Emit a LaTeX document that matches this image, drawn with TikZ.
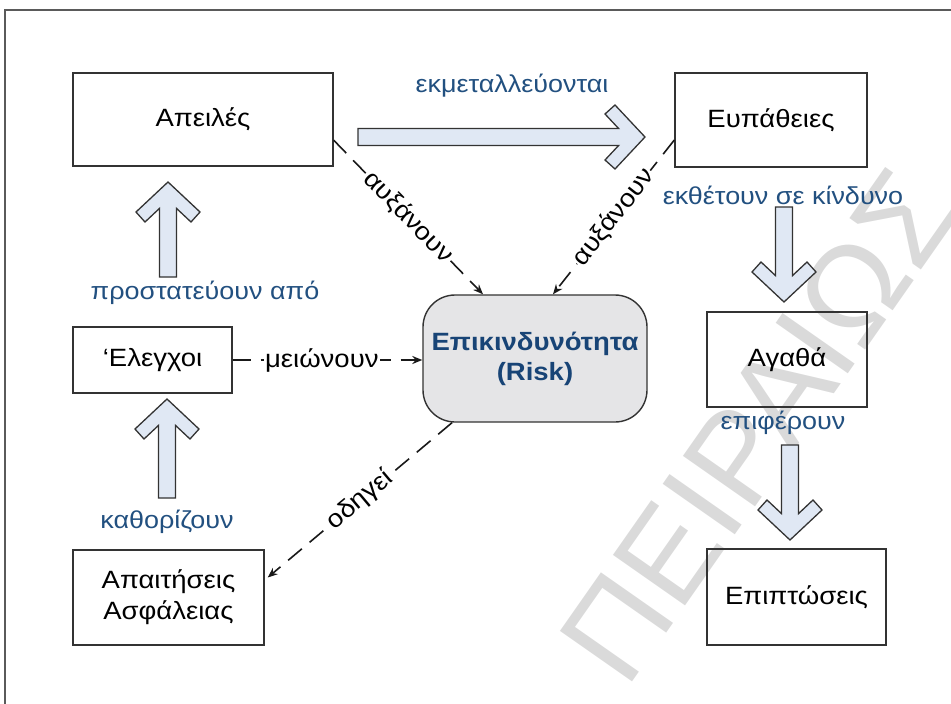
\documentclass[tikz,border=0pt]{standalone}
\usepackage{fontspec}
\setmainfont{Liberation Sans}[FakeStretch=1.1]
\newfontfamily\wmfont{Liberation Sans}
\usetikzlibrary{arrows.meta,calc}
\definecolor{lblblue}{RGB}{34,80,128}
\definecolor{riskblue}{RGB}{24,68,118}
\definecolor{arrowfill}{RGB}{224,232,244}
\definecolor{riskfill}{RGB}{229,229,231}
\definecolor{wmgray}{RGB}{218,218,218}
\definecolor{framegray}{RGB}{90,90,90}

\tikzset{
  pics/fatarrow/.style={code={
    \draw[fatarrowstyle] (0,0) -- (-30,-32) -- (-40,-23) -- (-26.4,-8.5) -- (-#1,-8.5)
      -- (-#1,8.5) -- (-26.4,8.5) -- (-40,23) -- (-30,32) -- cycle;
  }},
  fatarrowstyle/.style={draw=black!80, line width=1.3pt, fill=arrowfill, line join=miter},
  box/.style={draw=black!80, line width=1.4pt, inner sep=0pt, align=center,
    font=\fontsize{25}{31}\selectfont},
  riskbox/.style={box, fill=riskfill, rounded corners=32pt, text=riskblue,
    font=\fontsize{25}{30}\selectfont\bfseries},
  bluelbl/.style={text=lblblue, inner sep=0pt, font=\fontsize{24.5}{28}\selectfont},
  dashconn/.style={draw=black!90, line width=1.6pt, dash pattern=on 18pt off 10pt,
    -{Stealth[length=10pt,width=8pt]}},
  lbl/.style={fill=white, inner sep=1pt, font=\fontsize{25}{28}\selectfont},
  watermark/.style={text=wmgray, inner sep=0pt, font=\wmfont\fontsize{128}{128}\selectfont}
}

\begin{document}
\begin{tikzpicture}[x=1pt,y=-1pt]
\useasboundingbox (0,0) rectangle (951,704);

% background watermark
\node[watermark, rotate=55] (wm) at (758,425) {ΠΕΙΡΑΙΩΣ};

% outer frame (open at right and bottom)
\draw[framegray, line width=1.6pt] (5,704) -- (5,10) -- (951,10);

% boxes
\node[box, minimum width=260pt, minimum height=93pt] (threats) at (203,119.5) {Απειλές};
\node[box, minimum width=192pt, minimum height=94pt] (vuln) at (771,120) {Ευπάθειες};
\node[box, minimum width=159pt, minimum height=66pt] (controls) at (152.5,360) {‘Ελεγχοι};
\node[box, minimum width=191pt, minimum height=95pt] (req) at (168.5,597.5) {Απαιτήσεις\\Ασφάλειας};
\node[box, minimum width=160pt, minimum height=95pt] (assets) at (787,359.5) {Αγαθά};
\node[box, minimum width=179pt, minimum height=96pt] (impact) at (796.5,597) {Επιπτώσεις};
\node[riskbox, minimum width=224pt, minimum height=127pt] (risk) at (535,358.5) {Επικινδυνότητα\\(Risk)};

% thick chevron arrows
\pic at (645,137) {fatarrow=287};
\pic[rotate=90] at (168,182) {fatarrow=95};
\pic[rotate=90] at (167,399) {fatarrow=99};
\pic[rotate=-90] at (784,302) {fatarrow=95};
\pic[rotate=-90] at (790,540) {fatarrow=95};

% blue relation labels
\node[bluelbl] (exploit) at (512,86) {εκμεταλλεύονται};
\node[bluelbl] (protect) at (205,293) {προστατεύουν από};
\node[bluelbl] (define) at (167,522) {καθορίζουν};
\node[bluelbl] (expose) at (783,195) {εκθέτουν σε κίνδυνο};
\node[bluelbl] (cause) at (783,423) {επιφέρουν};

% dashed connectors into and out of the risk box
\draw[dashconn] (threats.-9) -- node[lbl, sloped, pos=.5] {αυξάνουν} ([xshift=-52pt]risk.north);
\draw[dashconn] ([yshift=-20pt]vuln.west) -- node[lbl, sloped, pos=.5] {αυξάνουν} ([xshift=18pt]risk.north);
\draw[dashconn] (controls.east) -- node[lbl, pos=.47] {μειώνουν} (controls.east -| risk.west);
\draw[dashconn] ([xshift=-83pt]risk.south) -- node[lbl, sloped, pos=.5] {οδηγεί} ([xshift=3pt,yshift=20pt]req.east);
\end{tikzpicture}
\end{document}
